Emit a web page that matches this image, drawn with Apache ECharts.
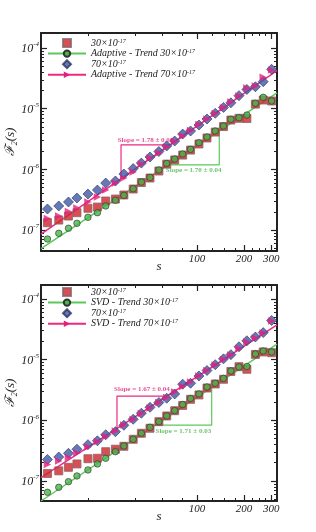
<!DOCTYPE html>
<html><head><meta charset="utf-8">
<script src="https://cdn.jsdelivr.net/npm/echarts@6/dist/echarts.min.js"></script>
<style>html,body{margin:0;padding:0;background:#fff}#c{width:316px;height:532px}</style>
</head><body><div id="c"></div><script>
// ---- data ----
const sValues = [11,13,15,17,20,23,26,30,34,39,44,50,57,64,72,81,91,103,116,131,148,165,186,209,237,266,301];

// top panel (Adaptive)
const topSq30   = [1.32e-7,1.46e-7,1.70e-7,1.93e-7,2.28e-7,2.39e-7,3.01e-7,3.24e-7,3.78e-7,4.74e-7,6.07e-7,7.20e-7,9.39e-7,1.22e-6,1.43e-6,1.72e-6,2.08e-6,2.62e-6,3.29e-6,4.12e-6,5.08e-6,6.50e-6,6.94e-6,6.89e-6,1.19e-5,1.39e-5,1.34e-5];
const topCirc30 = [7.11e-8,8.83e-8,1.07e-7,1.29e-7,1.62e-7,1.93e-7,2.49e-7,3.09e-7,3.73e-7,4.80e-7,6.18e-7,7.34e-7,9.75e-7,1.25e-6,1.48e-6,1.79e-6,2.14e-6,2.75e-6,3.41e-6,4.28e-6,5.18e-6,6.68e-6,7.10e-6,7.87e-6,1.23e-5,1.54e-5,1.34e-5];
const topDia70  = [2.22e-7,2.49e-7,2.90e-7,3.37e-7,3.92e-7,4.56e-7,5.95e-7,6.42e-7,8.38e-7,1.03e-6,1.27e-6,1.60e-6,1.97e-6,2.43e-6,2.93e-6,3.82e-6,4.28e-6,5.38e-6,6.76e-6,8.39e-6,1.05e-5,1.25e-5,1.64e-5,2.08e-5,2.30e-5,2.79e-5,4.46e-5];
const topTri70  = [1.55e-7,1.70e-7,2.02e-7,2.31e-7,2.90e-7,3.50e-7,4.56e-7,5.95e-7,7.20e-7,9.04e-7,1.22e-6,1.54e-6,1.86e-6,2.33e-6,2.88e-6,3.54e-6,4.37e-6,5.48e-6,6.76e-6,8.32e-6,1.04e-5,1.29e-5,1.62e-5,2.19e-5,2.36e-5,3.29e-5,4.34e-5];
const topFit30 = [4.92e-8, 1.83e-5];
const topFit70 = [8.59e-8, 4.23e-5];

// bottom panel (SVD)
const botSq30   = [1.33e-7,1.47e-7,1.68e-7,1.91e-7,2.33e-7,2.37e-7,3.04e-7,3.34e-7,3.73e-7,4.87e-7,6.12e-7,7.40e-7,9.50e-7,1.18e-6,1.44e-6,1.76e-6,2.22e-6,2.62e-6,3.41e-6,3.97e-6,4.75e-6,6.38e-6,7.66e-6,6.94e-6,1.22e-5,1.34e-5,1.30e-5];
const botCirc30 = [6.52e-8,7.87e-8,9.75e-8,1.21e-7,1.52e-7,1.91e-7,2.37e-7,3.04e-7,3.78e-7,4.87e-7,6.12e-7,7.68e-7,9.50e-7,1.18e-6,1.44e-6,1.82e-6,2.29e-6,2.72e-6,3.54e-6,4.08e-6,4.90e-6,6.50e-6,7.57e-6,7.72e-6,1.24e-5,1.39e-5,1.34e-5];
const botDia70  = [2.26e-7,2.49e-7,2.86e-7,3.34e-7,3.97e-7,4.60e-7,5.79e-7,6.50e-7,8.28e-7,1.04e-6,1.31e-6,1.64e-6,1.97e-6,2.31e-6,2.72e-6,3.94e-6,4.08e-6,5.38e-6,6.63e-6,8.26e-6,1.03e-5,1.21e-5,1.63e-5,2.05e-5,2.36e-5,2.79e-5,4.42e-5];
const botTri70  = [1.87e-7,2.14e-7,2.44e-7,2.90e-7,3.64e-7,4.48e-7,5.42e-7,6.67e-7,8.38e-7,1.03e-6,1.30e-6,1.60e-6,1.97e-6,2.38e-6,2.93e-6,3.61e-6,4.28e-6,5.38e-6,6.63e-6,8.17e-6,1.01e-5,1.19e-5,1.53e-5,1.95e-5,2.28e-5,2.75e-5,4.34e-5];
const botFit30 = [4.68e-8, 1.81e-5];
const botFit70 = [1.14e-7, 3.73e-5];

const fitS = [10, 326];
const xRange = [10, 326];
const topYRange = [4.51e-8, 1.77e-4];
const botYRange = [4.68e-8, 1.70e-4];

// slope annotations: [s at corner A, s at corner B]
const topBracket70 = [32.6, 67.1];
const topBracket30 = [65.2, 139];
const botBracket70 = [30.7, 64.2];
const botBracket30 = [53.8, 124.3];
const topSlopeText = ['Slope = 1.78 ± 0.06', 'Slope = 1.70 ± 0.04'];
const botSlopeText = ['Slope = 1.67 ± 0.04', 'Slope = 1.71 ± 0.03'];

const legendTop = ['30×10^-17', 'Adaptive - Trend 30×10^-17', '70×10^-17', 'Adaptive - Trend 70×10^-17'];
const legendBot = ['30×10^-17', 'SVD - Trend 30×10^-17', '70×10^-17', 'SVD - Trend 70×10^-17'];

const xMajorTicks = [100, 200, 300];
const xMinorTicks = [20, 40, 60, 80, 125, 150, 175, 225, 250, 275];
const yMajorTicks = [1e-7, 1e-6, 1e-5, 1e-4];
const yMinorFactors = [2, 3, 4, 5, 6, 7, 8, 9];
const yMinorDecades = [1e-8, 1e-7, 1e-6, 1e-5, 1e-4];

// ---- styling ----
const FONT = "'Liberation Serif', 'DejaVu Serif', serif";
const INK = '#222';
const C_RED = '#d0232b', C_GREEN = '#47b548', C_GREEN_L = '#5cc85a', C_BLUE = '#3f57a6', C_PINK = '#e4207c', C_PINK_L = '#ec2a84';
const ICON_RECT = 'path://M0,0L10,0L10,10L0,10Z';
const ICON_DIAMOND = 'path://M5,0L10,5L5,10L0,5Z';

const yMinorTicks = [];
yMinorDecades.forEach(d => yMinorFactors.forEach(f => yMinorTicks.push(+(f * d).toPrecision(3))));

function fitFn(fit) {
  const k = Math.log(fit[1] / fit[0]) / Math.log(fitS[1] / fitS[0]);
  return s => fit[0] * Math.pow(s / fitS[0], k);
}
function pairs(vals) { return sValues.map((s, i) => [s, vals[i]]); }

function makeX(g) {
  const base = {type: 'log', logBase: 10, gridIndex: g, min: xRange[0], max: xRange[1], splitLine: {show: false}};
  const line = {show: true, onZero: false, lineStyle: {color: INK, width: 2}};
  const tickMaj = {show: true, inside: true, length: 6, customValues: xMajorTicks, lineStyle: {color: INK, width: 1.2}};
  const tickMin = {show: true, inside: true, length: 3, customValues: xMinorTicks, lineStyle: {color: INK, width: 1}};
  return [
    Object.assign({}, base, {position: 'bottom', axisLine: line, axisTick: tickMaj,
      axisLabel: {show: true, customValues: xMajorTicks, formatter: v => String(Math.round(v)), margin: 3,
        fontFamily: FONT, fontStyle: 'italic', fontSize: 11, color: INK},
      name: 's', nameLocation: 'middle', nameGap: 9, nameMoveOverlap: false,
      nameTextStyle: {fontFamily: FONT, fontStyle: 'italic', fontSize: 13, color: INK}}),
    Object.assign({}, base, {position: 'bottom', axisLine: {show: false}, axisTick: tickMin, axisLabel: {show: false}}),
    Object.assign({}, base, {position: 'top', axisLine: line, axisTick: tickMaj, axisLabel: {show: false}}),
    Object.assign({}, base, {position: 'top', axisLine: {show: false}, axisTick: tickMin, axisLabel: {show: false}})
  ];
}
function makeY(g, range) {
  const base = {type: 'log', logBase: 10, gridIndex: g, min: range[0], max: range[1], splitLine: {show: false}};
  const line = {show: true, onZero: false, lineStyle: {color: INK, width: 2}};
  const tickMaj = {show: true, inside: true, length: 6, customValues: yMajorTicks, lineStyle: {color: INK, width: 1.2}};
  const tickMin = {show: true, inside: true, length: 3, customValues: yMinorTicks, lineStyle: {color: INK, width: 1}};
  return [
    Object.assign({}, base, {position: 'left', axisLine: line, axisTick: tickMaj,
      axisLabel: {show: true, customValues: yMajorTicks, margin: 2,
        formatter: v => '{b|10}{e|' + Math.round(Math.log10(v)) + '}',
        rich: {b: {fontFamily: FONT, fontStyle: 'italic', fontSize: 12, color: INK, lineHeight: 14, verticalAlign: 'bottom'},
               e: {fontFamily: FONT, fontStyle: 'italic', fontSize: 7, color: INK, lineHeight: 14, verticalAlign: 'top'}}},
      name: '{f|ℱ}{sub|2}{f|(s)}', nameLocation: 'middle', nameGap: 22, nameRotate: 90, nameMoveOverlap: false,
      nameTextStyle: {rich: {
        f: {fontFamily: FONT, fontStyle: 'italic', fontSize: 13, color: INK, lineHeight: 16, verticalAlign: 'middle'},
        sub: {fontFamily: FONT, fontStyle: 'italic', fontSize: 8, color: INK, lineHeight: 16, verticalAlign: 'bottom'}}}}),
    Object.assign({}, base, {position: 'left', axisLine: {show: false}, axisTick: tickMin, axisLabel: {show: false}}),
    Object.assign({}, base, {position: 'right', axisLine: line, axisTick: tickMaj, axisLabel: {show: false}}),
    Object.assign({}, base, {position: 'right', axisLine: {show: false}, axisTick: tickMin, axisLabel: {show: false}})
  ];
}

function makeSeries(g, names, sq, circ, dia, tri, fit30, fit70, br70, br30, slopeText, labDist) {
  const ax = {xAxisIndex: 4 * g, yAxisIndex: 4 * g};
  const f30 = fitFn(fit30), f70 = fitFn(fit70);
  const out = [];
  out.push(Object.assign({type: 'line', name: names[1], data: fitS.map(s => [s, f30(s)]), symbol: 'circle', showSymbol: false,
    lineStyle: {color: C_GREEN_L, width: 1.5}, itemStyle: {color: C_GREEN, borderColor: '#333', borderWidth: 0.8}, z: 2, silent: true}, ax));
  out.push(Object.assign({type: 'line', name: names[3], data: fitS.map(s => [s, f70(s)]), symbol: 'triangle', symbolRotate: -90, showSymbol: false,
    lineStyle: {color: C_PINK_L, width: 1.5}, itemStyle: {color: C_PINK}, z: 2, silent: true}, ax));
  // slope brackets
  out.push(Object.assign({type: 'line', data: [[br70[1], f70(br70[1])], [br70[0], f70(br70[1])], [br70[0], f70(br70[0])]],
    symbol: 'none', lineStyle: {color: C_PINK_L, width: 1.2}, z: 1, silent: true}, ax));
  out.push(Object.assign({type: 'line', data: [[br30[1], f30(br30[1])], [br30[1], f30(br30[0])], [br30[0], f30(br30[0])]],
    symbol: 'none', lineStyle: {color: C_GREEN_L, width: 1.2}, z: 1, silent: true}, ax));
  const labStyle = {fontFamily: FONT, fontWeight: 'bold', fontSize: 7};
  out.push(Object.assign({type: 'scatter', symbolSize: 0, silent: true, z: 6,
    data: [{value: [Math.sqrt(br70[0] * br70[1]), f70(br70[1])],
            label: Object.assign({show: true, position: 'top', distance: labDist[0], formatter: slopeText[0], color: C_PINK}, labStyle)},
           {value: [Math.sqrt(br30[0] * br30[1]), f30(br30[0])],
            label: Object.assign({show: true, position: 'bottom', distance: labDist[1], formatter: slopeText[1], color: C_GREEN}, labStyle)}]}, ax));
  out.push(Object.assign({type: 'scatter', name: names[0], data: pairs(sq), symbol: 'rect', symbolSize: 8,
    itemStyle: {color: C_RED, borderColor: '#8a6464', borderWidth: 1}, z: 3}, ax));
  out.push(Object.assign({type: 'scatter', name: names[1], data: pairs(circ), symbol: 'circle', symbolSize: 6.5,
    itemStyle: {color: C_GREEN, borderColor: '#333', borderWidth: 0.8}, z: 4}, ax));
  out.push(Object.assign({type: 'scatter', name: names[2], data: pairs(dia), symbol: 'diamond', symbolSize: 10,
    itemStyle: {color: C_BLUE, borderColor: '#2a3560', borderWidth: 0.8}, z: 4}, ax));
  out.push(Object.assign({type: 'scatter', name: names[3], data: pairs(tri), symbol: 'triangle', symbolRotate: -90, symbolSize: 7.5,
    itemStyle: {color: C_PINK}, z: 5}, ax));
  return out;
}

function makeLegend(top, names) {
  return {orient: 'vertical', left: 47, top: top, padding: 0, itemWidth: 38, itemHeight: 8, itemGap: 0.6,
    symbolKeepAspect: true,
    data: [{name: names[0], icon: ICON_RECT}, names[1], {name: names[2], icon: ICON_DIAMOND}, names[3]],
    selectedMode: false,
    formatter: n => { const m = n.match(/^(.*)\^(-?\d+)$/); return m ? '{t|' + m[1] + '}{s|' + m[2] + '}' : '{t|' + n + '}'; },
    textStyle: {rich: {
      t: {fontFamily: FONT, fontStyle: 'italic', fontSize: 10, color: INK, lineHeight: 10, verticalAlign: 'bottom'},
      s: {fontFamily: FONT, fontStyle: 'italic', fontSize: 6, color: INK, lineHeight: 10, verticalAlign: 'top'}}}};
}

const chart = echarts.init(document.getElementById('c'), null, {renderer: 'canvas'});
chart.setOption({
  animation: false,
  backgroundColor: '#fff',
  grid: [
    {left: 41, top: 33, width: 236, height: 218, containLabel: false, outerBoundsMode: 'none'},
    {left: 41, top: 285, width: 236, height: 216, containLabel: false, outerBoundsMode: 'none'}
  ],
  xAxis: makeX(0).concat(makeX(1)),
  yAxis: makeY(0, topYRange).concat(makeY(1, botYRange)),
  legend: [makeLegend(38, legendTop), makeLegend(287, legendBot)],
  series: makeSeries(0, legendTop, topSq30, topCirc30, topDia70, topTri70, topFit30, topFit70, topBracket70, topBracket30, topSlopeText, [1.5, 1.5])
    .concat(makeSeries(1, legendBot, botSq30, botCirc30, botDia70, botTri70, botFit30, botFit70, botBracket70, botBracket30, botSlopeText, [3.5, 2]))
});
</script></body></html>
